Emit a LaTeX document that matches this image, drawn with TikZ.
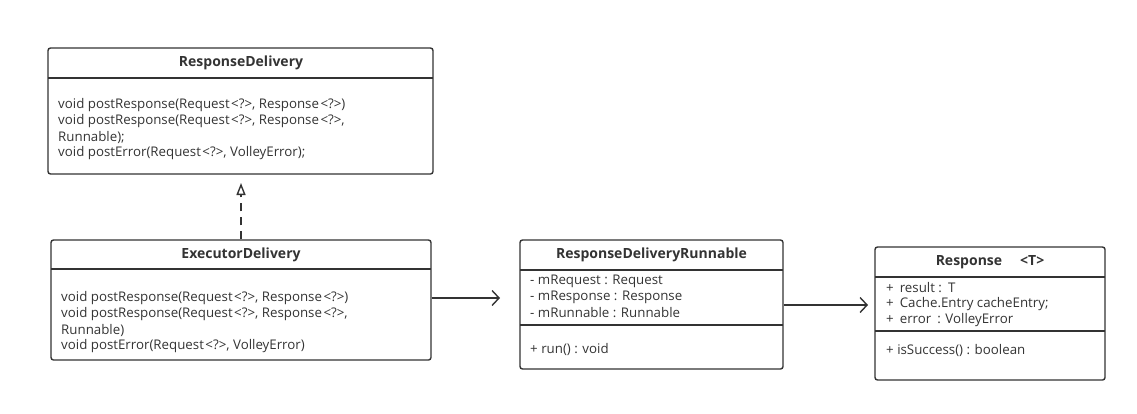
\documentclass[tikz,border=0pt]{standalone}
\usepackage{fontspec}
\setmainfont{Open Sans}
\usetikzlibrary{arrows.meta}
\definecolor{ink}{HTML}{333333}
\newcommand{\gen}{\hspace{1.5pt}<?>}
\tikzset{
  umlbox/.style={draw=ink, line width=1.4pt, rounded corners=2.5pt, rectangle, inner sep=0pt},
  sep/.style={draw=ink, line width=1.4pt},
  title/.style={font=\fontsize{14}{16}\selectfont\bfseries, text=ink, anchor=center, inner sep=0pt},
  txt/.style={font=\fontsize{13.3}{15}\selectfont, text=ink, anchor=west, inner sep=0pt},
  conn/.style={draw=ink, line width=1.4pt},
}
\begin{document}
\begin{tikzpicture}[x=1pt,y=-1pt]
\useasboundingbox (0,0) rectangle (1137,413);
% Boxes
\node[umlbox, minimum width=385pt, minimum height=126pt] (rd) at (240.5,111) {};
\node[umlbox, minimum width=380pt, minimum height=120pt] (ed) at (241,300) {};
\node[umlbox, minimum width=263pt, minimum height=129pt] (rdr) at (651.5,304.5) {};
\node[umlbox, minimum width=230pt, minimum height=133pt] (resp) at (990,313.5) {};
% separators
\draw[sep] (48,78) -- (433,78);
\draw[sep] (51,269) -- (431,269);
\draw[sep] (520,270) -- (783,270);
\draw[sep] (520,325) -- (783,325);
\draw[sep] (875,277) -- (1105,277);
\draw[sep] (875,331) -- (1105,331);
% ResponseDelivery
\node[title] (rdt) at (241,63) {ResponseDelivery};
\node[txt] (rd1) at (58,105) {void postResponse(Request\gen, Response\gen)};
\node[txt] (rd2) at (58,121) {void postResponse(Request\gen, Response\gen,};
\node[txt] (rd3) at (58,137) {Runnable);};
\node[txt] (rd4) at (58,153) {void postError(Request\gen, VolleyError);};
% ExecutorDelivery
\node[title] (edt) at (241,255) {ExecutorDelivery};
\node[txt] (ed1) at (61,298) {void postResponse(Request\gen, Response\gen)};
\node[txt] (ed2) at (61,314) {void postResponse(Request\gen, Response\gen,};
\node[txt] (ed3) at (61,330) {Runnable)};
\node[txt] (ed4) at (61,346) {void postError(Request\gen, VolleyError)};
% ResponseDeliveryRunnable
\node[title] (rdrt) at (651.5,255) {ResponseDeliveryRunnable};
\node[txt] (rdr1) at (530,281) {- mRequest : Request};
\node[txt] (rdr2) at (530,297) {- mResponse : Response};
\node[txt] (rdr3) at (530,313) {- mRunnable : Runnable};
\node[txt] (rdr4) at (530,349) {+ run() : void};
% Response <T>
\node[title] (respt) at (990,262) {Response\hspace{18pt}<T>};
\node[txt] (resp1) at (886,288) {+\hspace{6pt}result :\hspace{6pt}T};
\node[txt] (resp2) at (886,304) {+\hspace{6pt}Cache.Entry cacheEntry;};
\node[txt] (resp3) at (886,320) {+\hspace{6pt}error\hspace{6pt}: VolleyError};
\node[txt] (resp4) at (886,350) {+ isSuccess() : boolean};
% connectors
\coordinate (rdbot) at (241,183);
\draw[conn, dash pattern=on 8pt off 6pt, -{Triangle[open, width=9pt, length=12pt, line width=1.4pt]}] (ed.north) -- (rdbot);
\coordinate (a2end) at (500,298);
\draw[conn, -{Straight Barb[length=7pt, width=15pt, line width=1.4pt]}] (ed.east |- a2end) -- (a2end);
\coordinate (a3end) at (868,305);
\draw[conn, -{Straight Barb[length=7pt, width=15pt, line width=1.4pt]}] (rdr.east |- a3end) -- (a3end);
\end{tikzpicture}
\end{document}
